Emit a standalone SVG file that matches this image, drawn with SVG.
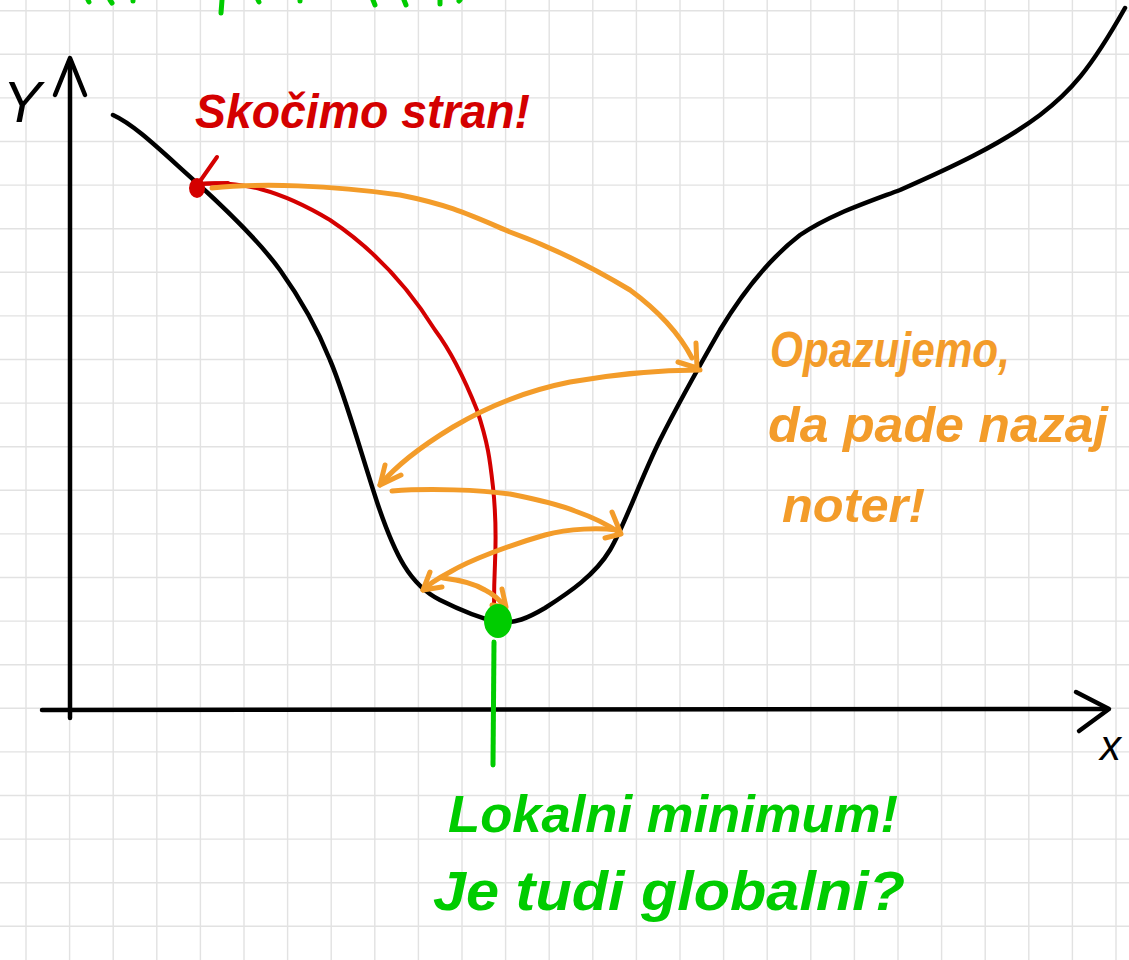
<svg xmlns="http://www.w3.org/2000/svg" width="1129" height="960" viewBox="0 0 1129 960">
<style>
.grid{stroke:#e2e2e2;stroke-width:1.4;fill:none}
.ink{fill:none;stroke-linecap:round;stroke-linejoin:round}
.blk{stroke:#000;stroke-width:4.5}
.red{stroke:#d40000;stroke-width:4}
.org{stroke:#f39c2a;stroke-width:5}
.grn{stroke:#00cc00;stroke-width:5}
.hw{font-family:"Liberation Sans","DejaVu Sans",sans-serif;font-style:italic;font-weight:bold}
.ax{font-family:"Liberation Sans","DejaVu Sans",sans-serif;font-style:italic;font-weight:normal}
</style>
<rect width="1129" height="960" fill="#fff"/>
<g id="grid">
<path class="grid" d="M26 0V960M69.6 0V960M113.2 0V960M156.8 0V960M200.4 0V960M244 0V960M287.6 0V960M331.2 0V960M374.8 0V960M418.4 0V960M462 0V960M505.6 0V960M549.2 0V960M592.8 0V960M636.4 0V960M680 0V960M723.6 0V960M767.2 0V960M810.8 0V960M854.4 0V960M898 0V960M941.6 0V960M985.2 0V960M1028.8 0V960M1072.4 0V960M1116 0V960M0 10.7H1129M0 54.3H1129M0 97.9H1129M0 141.5H1129M0 185.1H1129M0 228.7H1129M0 272.3H1129M0 315.9H1129M0 359.5H1129M0 403.1H1129M0 446.7H1129M0 490.3H1129M0 533.9H1129M0 577.5H1129M0 621.1H1129M0 664.7H1129M0 708.3H1129M0 751.9H1129M0 795.5H1129M0 839.1H1129M0 882.7H1129M0 926.3H1129"/>
</g>
<g id="cutoff-top" class="ink grn" stroke-width="4">
<path d="M88 0L89 2M110 0L112 3M133 0L133 1M222 0L221 13M258 0L259 2M300 0L300 1M373 0L375 5M404 0L406 5M440 0L440 4M460 0L459 1"/>
</g>
<g id="axes" class="ink blk">
<path d="M70 718V60"/>
<path d="M55 95L70 58L85 95"/>
<path d="M42 710L1108 709"/>
<path d="M1076 692L1109 709L1079 731"/>
</g>
<g id="axis-labels">
<text class="ax" x="22" y="122" font-size="58" text-anchor="middle" fill="#000">Y</text>
<text class="ax" x="1100" y="760" font-size="42" fill="#000">x</text>
</g>
<g id="function-curve">
<path class="ink blk" d="M113 115C135 125 160 150 197 183C230 213 262 245 280 270C305 305 320 335 330 360C345 395 360 450 378 505C395 555 410 585 440 600C460 610 480 618 497 622C515 624 528 618 545 608C570 592 595 575 610 550C625 525 640 480 660 440C680 400 700 365 720 330C740 297 765 262 800 235C830 215 860 205 900 190C950 168 1000 145 1040 115C1070 92 1090 70 1125 8"/>
</g>
<g id="red-path">
<path class="ink red" d="M198 184C240 180 280 190 330 220C375 250 410 290 435 330C450 350 465 380 477 410C488 443 490 460 493 487C496 515 496 540 495 563C494 585 494 600 494 607"/>
<path class="ink red" stroke-width="5" d="M217 157L198 184L228 183"/>
<ellipse cx="197" cy="188" rx="8" ry="10" fill="#d40000"/>
</g>
<g id="bounces" class="ink org">
<path d="M212 188C260 183 330 185 400 195C450 205 470 215 510 232C560 250 600 272 630 290C660 312 680 335 692 358"/>
<path d="M696 343L697 368L678 362"/>
<path d="M700 370C660 370 610 375 570 382C530 390 490 405 453 427C420 447 395 467 380 485"/>
<path d="M385 465L380 485L401 475"/>
<path d="M392 491C430 488 480 490 510 494C540 500 560 505 575 511C595 518 610 526 620 533"/>
<path d="M612 512L621 534L605 538"/>
<path d="M617 530C600 528 570 528 545 535C510 545 470 560 450 572C435 580 428 585 423 590"/>
<path d="M430 572L423 590L442 587"/>
<path d="M443 578C460 580 475 584 485 590C495 595 500 600 505 607"/>
<path d="M502 589L506 607L492 605"/>
</g>
<g id="minimum">
<ellipse cx="498" cy="621" rx="14" ry="17" fill="#00cc00"/>
<path class="ink grn" d="M494 642L493 765"/>
</g>
<g id="labels">
<text class="hw" x="195" y="128" font-size="48" fill="#d40000" textLength="335" lengthAdjust="spacingAndGlyphs">Skočimo stran!</text>
<text class="hw" x="770" y="367" font-size="50" fill="#f39c2a" textLength="240" lengthAdjust="spacingAndGlyphs">Opazujemo,</text>
<text class="hw" x="768" y="442" font-size="50" fill="#f39c2a" textLength="340" lengthAdjust="spacingAndGlyphs">da pade nazaj</text>
<text class="hw" x="782" y="522" font-size="48" fill="#f39c2a" textLength="143" lengthAdjust="spacingAndGlyphs">noter!</text>
<text class="hw" x="448" y="832" font-size="52" fill="#00cc00" textLength="450" lengthAdjust="spacingAndGlyphs">Lokalni minimum!</text>
<text class="hw" x="433" y="910" font-size="56" fill="#00cc00" textLength="472" lengthAdjust="spacingAndGlyphs">Je tudi globalni?</text>
</g>
</svg>
